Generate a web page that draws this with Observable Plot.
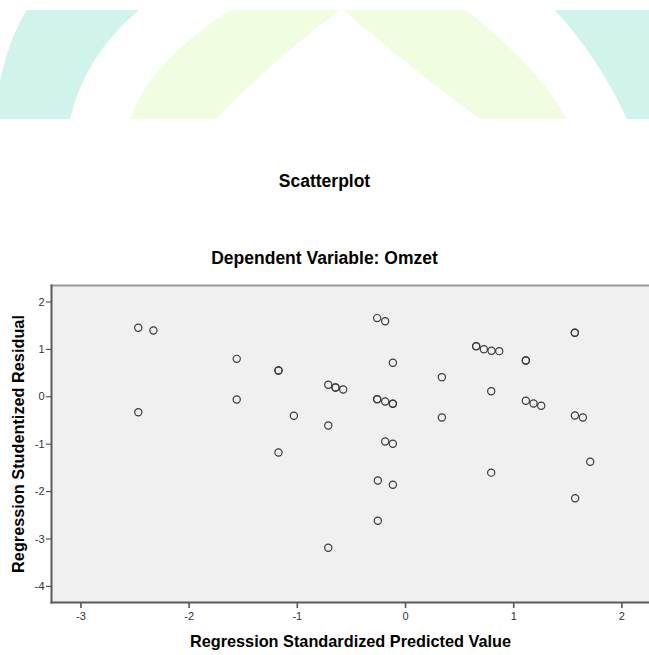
<!DOCTYPE html>
<html>
<head>
<meta charset="utf-8">
<script src="https://cdn.jsdelivr.net/npm/d3@7"></script>
<script src="https://cdn.jsdelivr.net/npm/@observablehq/plot@0.6"></script>
<style>
  html, body { margin: 0; padding: 0; background: #fff; }
  #wrap { position: relative; width: 649px; height: 655px; overflow: hidden; font-family: "Liberation Sans", Arial, sans-serif; }
  #deco { position: absolute; left: 0; top: 0; }
  .ttl { position: absolute; left: 0; width: 649px; text-align: center; font-weight: bold; font-size: 17.5px; line-height: 20px; color: #000; }
  #chart { position: absolute; left: 0; top: 270px; }
</style>
</head>
<body>
<div id="wrap">
  <svg id="deco" width="649" height="130">
    <path d="M27,10 L139,10 Q85,55 70,119 L0,119 L0,82 Q8,40 27,10 Z" fill="#d0f3ec"/>
    <path d="M230,10 L339,10 Q262,70 216,119 L130,119 Q149,63 230,10 Z" fill="#f0fde0"/>
    <path d="M343,10 L466,10 Q538,67 567,119 L480,119 Q420,75 343,10 Z" fill="#f0fde0"/>
    <path d="M555,10 L649,10 L649,119 L627,119 Q600,60 555,10 Z" fill="#d0f3ec"/>
  </svg>
  <div class="ttl" style="top:171px">Scatterplot</div>
  <div class="ttl" style="top:248px">Dependent Variable: Omzet</div>
  <div id="chart"></div>
</div>
<script>
const predicted = [-2.47, -2.33, -2.47, -1.56, -1.56, -1.174, -1.174, -1.174, -1.032,
  -0.714, -0.647, -0.647, -0.576, -0.714, -0.714,
  -0.262, -0.188, -0.117, -0.262, -0.262, -0.188, -0.117, -0.117, -0.188, -0.117, -0.256, -0.117, -0.256,
  0.336, 0.336, 0.653, 0.653, 0.724, 0.795, 0.866, 0.792, 0.792,
  1.112, 1.112, 1.112, 1.183, 1.254, 1.565, 1.565, 1.565, 1.639, 1.707, 1.568];
const residual = [1.456, 1.40, -0.325, 0.80, -0.057, 0.555, 0.555, -1.175, -0.40,
  0.253, 0.196, 0.196, 0.154, -0.605, -3.186,
  1.66, 1.595, 0.717, -0.05, -0.05, -0.10, -0.148, -0.148, -0.943, -0.99, -1.766, -1.857, -2.616,
  0.414, -0.437, 1.068, 1.068, 1.005, 0.97, 0.963, 0.118, -1.60,
  0.766, 0.766, -0.085, -0.14, -0.19, 1.35, 1.35, -0.395, -0.437, -1.37, -2.14];
const xTicks = [-3, -2, -1, 0, 1, 2];
const yTicks = [-4, -3, -2, -1, 0, 1, 2];
const xTitle = "Regression Standardized Predicted Value";
const yTitle = "Regression Studentized Residual";

const data = predicted.map((p, i) => ({p, r: residual[i]}));
const fmt = d => String(d);

const chart = Plot.plot({
  width: 649,
  height: 385,
  marginTop: 15,
  marginBottom: 53,
  marginLeft: 51,
  marginRight: 0,
  style: {background: "transparent", fontFamily: "'Liberation Sans', Arial, sans-serif", fontSize: "11px", color: "#222"},
  x: {domain: [-3.272, 2.255]},
  y: {domain: [-4.34, 2.348]},
  marks: [
    Plot.frame({fill: "#f0f0f0", stroke: null}),
    Plot.frame({anchor: "top", stroke: "#9a9a9a", strokeWidth: 2}),
    Plot.dot(data, {x: "p", y: "r", r: 3.6, stroke: "#3a3a3a", strokeWidth: 1.2, fill: "none"}),
    Plot.axisX({ticks: xTicks, tickFormat: fmt, tickSize: 6, tickPadding: 4, stroke: "#555", strokeWidth: 1.6, fontSize: 11, fill: "#333", label: null}),
    Plot.axisY({ticks: yTicks, tickFormat: fmt, tickSize: 5, tickPadding: 2, stroke: "#555", strokeWidth: 1.2, fontSize: 11, fill: "#333", label: null}),
    Plot.frame({anchor: "left", stroke: "#5a5a5a", strokeWidth: 2}),
    Plot.frame({anchor: "bottom", stroke: "#5a5a5a", strokeWidth: 2}),
    Plot.text([xTitle], {frameAnchor: "bottom", dy: 39, lineAnchor: "middle", textAnchor: "middle", fontSize: 16.3, fontWeight: "bold", fill: "#000"}),
    Plot.text([yTitle], {frameAnchor: "left", dx: -33, rotate: -90, lineAnchor: "middle", textAnchor: "middle", fontSize: 16.3, fontWeight: "bold", fill: "#000"})
  ]
});
document.getElementById("chart").appendChild(chart);
</script>
</body>
</html>
